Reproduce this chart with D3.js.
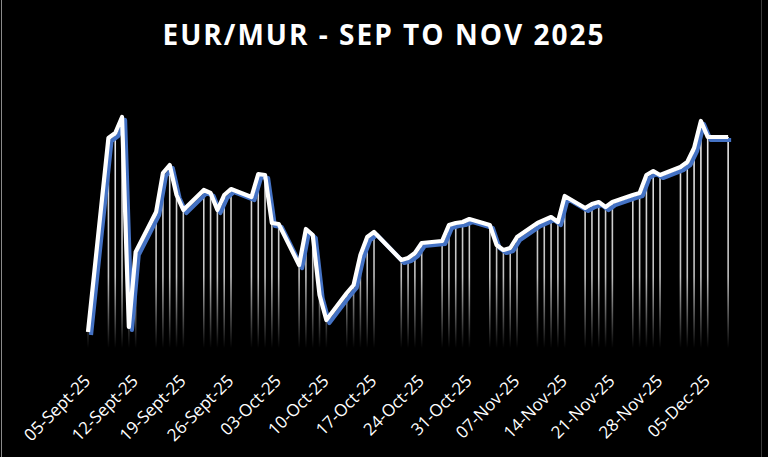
<!DOCTYPE html>
<html>
<head>
<meta charset="utf-8">
<script src="https://cdn.jsdelivr.net/npm/d3@7/dist/d3.min.js"></script>
<style>
html,body{margin:0;padding:0;background:#000;}
svg{display:block;}
</style>
</head>
<body>
<svg id="chart" width="768" height="457"></svg>
<script>
const title = "EUR/MUR - SEP TO NOV 2025";
const dates = ["2025-09-05","2025-09-08","2025-09-09","2025-09-10","2025-09-11","2025-09-12",
"2025-09-15","2025-09-16","2025-09-17","2025-09-18","2025-09-19",
"2025-09-22","2025-09-23","2025-09-24","2025-09-25","2025-09-26",
"2025-09-29","2025-09-30","2025-10-01","2025-10-02","2025-10-03",
"2025-10-06","2025-10-07","2025-10-08","2025-10-09","2025-10-10",
"2025-10-13","2025-10-14","2025-10-15","2025-10-16","2025-10-17",
"2025-10-21","2025-10-22","2025-10-23","2025-10-24",
"2025-10-27","2025-10-28","2025-10-29","2025-10-30","2025-10-31",
"2025-11-03","2025-11-04","2025-11-05","2025-11-06","2025-11-07",
"2025-11-10","2025-11-11","2025-11-12","2025-11-13","2025-11-14",
"2025-11-17","2025-11-18","2025-11-19","2025-11-20","2025-11-21",
"2025-11-24","2025-11-25","2025-11-26","2025-11-27","2025-11-28",
"2025-12-01","2025-12-02","2025-12-03","2025-12-04","2025-12-05",
"2025-12-08"];
const rates = [52.825,53.795,53.82,53.90,52.85,53.225,
53.425,53.62,53.66,53.51,53.435,
53.535,53.52,53.435,53.51,53.54,
53.50,53.615,53.61,53.37,53.365,
53.16,53.34,53.31,53.01,52.885,
53.02,53.06,53.21,53.30,53.325,
53.185,53.195,53.22,53.27,
53.28,53.36,53.37,53.375,53.39,
53.36,53.26,53.235,53.245,53.30,
53.37,53.385,53.40,53.375,53.505,
53.445,53.465,53.475,53.45,53.475,
53.51,53.52,53.61,53.63,53.61,
53.65,53.675,53.745,53.88,53.80,
53.80];
const tickDates = ["2025-09-05","2025-09-12","2025-09-19","2025-09-26","2025-10-03","2025-10-10","2025-10-17","2025-10-24","2025-10-31","2025-11-07","2025-11-14","2025-11-21","2025-11-28","2025-12-05"];
const tickLabels = ["05-Sept-25","12-Sept-25","19-Sept-25","26-Sept-25","03-Oct-25","10-Oct-25","17-Oct-25","24-Oct-25","31-Oct-25","07-Nov-25","14-Nov-25","21-Nov-25","28-Nov-25","05-Dec-25"];

const parse = d3.utcParse("%Y-%m-%d");
const data = dates.map((d,i)=>({date:parse(d), value:rates[i]}));

const svg = d3.select("#chart");
const W = 768, H = 457;
const plotBottom = 348;

svg.append("rect").attr("width",W).attr("height",H).attr("fill","#000");
svg.append("line").attr("x1",1.5).attr("x2",1.5).attr("y1",0).attr("y2",H)
  .attr("stroke","#8a8a8a").attr("stroke-width",1);
svg.append("line").attr("x1",761.5).attr("x2",761.5).attr("y1",0).attr("y2",H)
  .attr("stroke","#3a3a3a").attr("stroke-width",1);

const x = d3.scaleUtc()
  .domain([parse("2025-09-05"), parse("2025-12-10")])
  .range([88, 88 + 96*6.81]);
const y = d3.scaleLinear().domain([52.75, 54.05]).range([347, 87]);

const defs = svg.append("defs");
const grad = defs.append("linearGradient").attr("id","dropGrad")
  .attr("gradientUnits","userSpaceOnUse")
  .attr("x1",0).attr("x2",0).attr("y1",110).attr("y2",plotBottom);
grad.append("stop").attr("offset","0%").attr("stop-color","#ffffff").attr("stop-opacity",0.95);
grad.append("stop").attr("offset","70%").attr("stop-color","#ffffff").attr("stop-opacity",0.75);
grad.append("stop").attr("offset","100%").attr("stop-color","#ffffff").attr("stop-opacity",0);

// drop lines
svg.append("g").selectAll("line").data(data).join("line")
  .attr("x1",d=>x(d.date)).attr("x2",d=>x(d.date))
  .attr("y1",d=>y(d.value)).attr("y2",plotBottom)
  .attr("stroke","url(#dropGrad)").attr("stroke-width",1.6);

const line = d3.line().x(d=>x(d.date)).y(d=>y(d.value));

// shadow
svg.append("path").datum(data).attr("d",line)
  .attr("transform","translate(3,3)")
  .attr("fill","none").attr("stroke","#4472C4").attr("stroke-width",4.2)
  .attr("stroke-linejoin","round");
// main line
svg.append("path").datum(data).attr("d",line)
  .attr("fill","none").attr("stroke","#ffffff").attr("stroke-width",4.2)
  .attr("stroke-linejoin","round");

// x axis labels
const axis = d3.axisBottom(x)
  .tickValues(tickDates.map(parse))
  .tickFormat((d,i)=>tickLabels[i])
  .tickSize(0);
const gx = svg.append("g").attr("transform",`translate(0,${plotBottom})`).call(axis);
gx.select(".domain").remove();
gx.selectAll("text")
  .attr("fill","#ffffff")
  .attr("font-family","'Open Sans', sans-serif")
  .attr("font-size","17px")
  .attr("text-anchor","end")
  .attr("dy",0)
  .attr("y",0)
  .attr("transform","translate(3,34) rotate(-45)");

// title
svg.append("text").text(title)
  .attr("x",W/2 - 1).attr("y",45)
  .attr("text-anchor","middle")
  .attr("fill","#ffffff")
  .attr("font-family","'Open Sans', sans-serif")
  .attr("font-weight","bold")
  .attr("font-size","28px")
  .attr("textLength",441)
  .attr("lengthAdjust","spacing");
</script>
</body>
</html>
